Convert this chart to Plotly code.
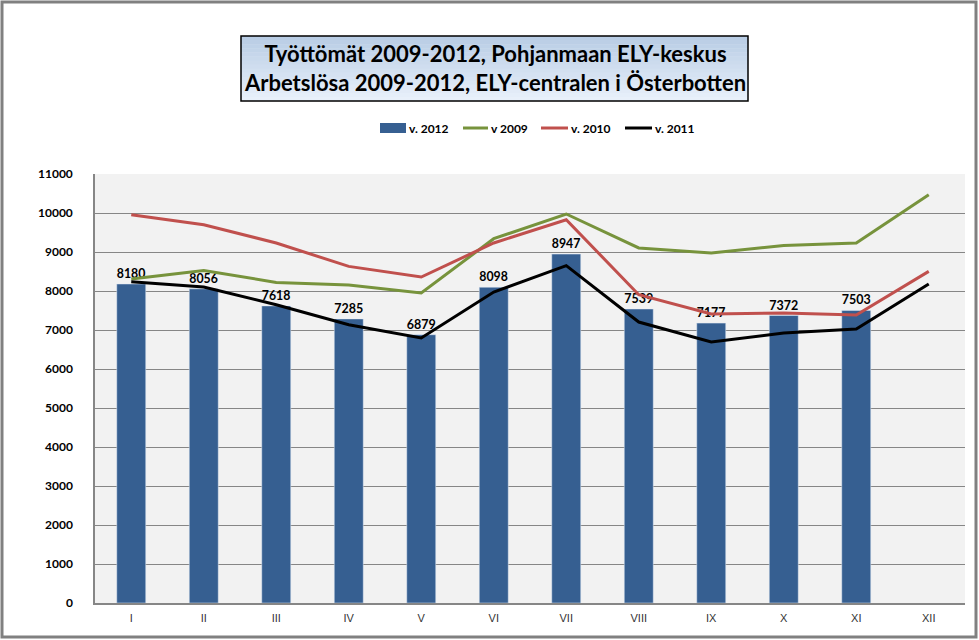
import plotly.graph_objects as go

months = ["I", "II", "III", "IV", "V", "VI", "VII", "VIII", "IX", "X", "XI", "XII"]
v2012 = [8180, 8056, 7618, 7285, 6879, 8098, 8947, 7539, 7177, 7372, 7503, None]
v2009 = [8308, 8528, 8221, 8154, 7949, 9341, 9974, 9103, 8974, 9169, 9231, 10469]
v2010 = [9956, 9700, 9231, 8631, 8359, 9231, 9828, 7905, 7410, 7436, 7385, 8503]
v2011 = [8238, 8103, 7649, 7136, 6795, 7974, 8649, 7205, 6692, 6923, 7026, 8179]
yticks = list(range(0, 11001, 1000))

W, H = 979, 640
L, R, T, B = 95, 965, 174, 603

def px(x):
    return (x - L) / (R - L)

def py(y):
    return (B - y) / (B - T)

FONT = "Lato, 'Open Sans', sans-serif"
COLORS = {"v. 2012": "#365f91", "v 2009": "#77933c", "v. 2010": "#c0504d", "v. 2011": "#000000"}

fig = go.Figure()
fig.add_trace(go.Bar(
    x=months, y=v2012, name="v. 2012", marker_color=COLORS["v. 2012"], width=0.4,
    text=[f"{v}" if v is not None else "" for v in v2012], textposition="outside",
    textfont=dict(family=FONT, size=13, color="black", weight="bold"),
    cliponaxis=False, showlegend=False,
))
for name, vals in (("v 2009", v2009), ("v. 2010", v2010), ("v. 2011", v2011)):
    fig.add_trace(go.Scatter(x=months, y=vals, name=name, mode="lines",
                             line=dict(color=COLORS[name], width=3), showlegend=False))

shapes = []
annotations = []
# outer border
shapes.append(dict(type="rect", xref="paper", yref="paper",
                   x0=px(2), x1=px(976), y0=py(637), y1=py(2),
                   line=dict(color="#808080", width=3), fillcolor="rgba(0,0,0,0)", layer="below"))
# title box gradient
x0b, x1b, y0b, y1b = 241, 748, 36, 101
n = 16
c_top = (185, 205, 229)
c_bot = (232, 240, 250)
for i in range(n):
    t = i / (n - 1)
    c = tuple(int(round(c_top[k] + (c_bot[k] - c_top[k]) * t)) for k in range(3))
    ya = y0b + (y1b - y0b) * i / n
    yb = y0b + (y1b - y0b) * (i + 1) / n + 0.5
    shapes.append(dict(type="rect", xref="paper", yref="paper",
                       x0=px(x0b), x1=px(x1b), y0=py(min(yb, y1b)), y1=py(ya),
                       line=dict(width=0), fillcolor="rgb(%d,%d,%d)" % c, layer="below"))
shapes.append(dict(type="rect", xref="paper", yref="paper",
                   x0=px(x0b), x1=px(x1b), y0=py(y1b), y1=py(y0b),
                   line=dict(color="black", width=1.5), fillcolor="rgba(0,0,0,0)"))
annotations.append(dict(
    xref="paper", yref="paper", x=px((x0b + x1b) / 2), y=py((y0b + y1b) / 2),
    xanchor="center", yanchor="middle", showarrow=False,
    text="Työttömät 2009-2012, Pohjanmaan ELY-keskus<br>Arbetslösa 2009-2012, ELY-centralen i Österbotten",
    font=dict(family=FONT, size=22, color="black", weight="bold"),
))

# manual legend
leg_y = 128
legend_items = [("v. 2012", "bar", 380, 406), ("v 2009", "line", 463, 488),
                ("v. 2010", "line", 541, 568), ("v. 2011", "line", 625, 652)]
for name, kind, a, b in legend_items:
    if kind == "bar":
        shapes.append(dict(type="rect", xref="paper", yref="paper",
                           x0=px(a), x1=px(b), y0=py(leg_y + 5), y1=py(leg_y - 5),
                           line=dict(width=0), fillcolor=COLORS[name]))
    else:
        shapes.append(dict(type="line", xref="paper", yref="paper",
                           x0=px(a), x1=px(b), y0=py(leg_y), y1=py(leg_y),
                           line=dict(color=COLORS[name], width=3)))
    annotations.append(dict(xref="paper", yref="paper", x=px(b + 1), y=py(leg_y),
                            xanchor="left", yanchor="middle", showarrow=False, text=name,
                            font=dict(family=FONT, size=12, color="black", weight="bold")))

fig.update_layout(
    width=W, height=H,
    margin=dict(l=L, r=W - R, t=T, b=H - B, autoexpand=False),
    paper_bgcolor="white", plot_bgcolor="#f2f2f2",
    shapes=shapes, annotations=annotations,
    showlegend=False,
    bargap=0.6,
    xaxis=dict(showline=True, linecolor="#868686", linewidth=2, ticks="",
               tickfont=dict(family="Liberation Sans, sans-serif", size=11, color="#333333"),
               showgrid=False, ticklabelstandoff=4),
    yaxis=dict(range=[0, 11000], tickvals=yticks, ticktext=[str(v) for v in yticks],
               showgrid=True, gridcolor="#868686",
               gridwidth=1, showline=True, linecolor="#868686", linewidth=1.5,
               tickfont=dict(family=FONT, size=12, color="black", weight="bold"),
               ticks="", zeroline=False, ticklabelstandoff=18),
)

fig.write_html("out.html", config={"displayModeBar": False},
               post_script="document.body.style.margin='0';document.body.style.overflow='hidden';")
